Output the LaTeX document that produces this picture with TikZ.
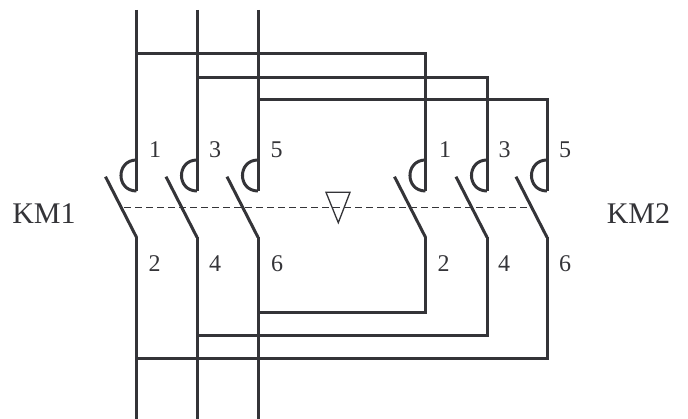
\documentclass[tikz,border=0pt]{standalone}
\usepackage{fontspec}
\setmainfont{Liberation Serif}
\definecolor{wire}{RGB}{52,52,56}
\tikzset{
  wirepath/.style={draw=wire, line width=3pt, line join=miter, line cap=butt},
  linkage/.style={draw=wire, line width=1.2pt, dash pattern=on 7pt off 4pt},
  tri/.style={draw=wire, line width=1.3pt, line join=miter},
  numlbl/.style={inner sep=0pt, text=wire, font=\fontsize{24}{24}\selectfont},
  kmlbl/.style={inner sep=0pt, text=wire, font=\fontsize{30}{30}\selectfont}
}
\begin{document}
\begin{tikzpicture}[x=1pt,y=-1pt]
\useasboundingbox (0,0) rectangle (688,419);
% column coordinates
\foreach \n/\c in {a/136.5,b/197,c/258,d/425.5,e/487,f/547}{
  \coordinate (\n up) at (\c,191);
  \coordinate (\n lo) at (\c,237.3);
  \coordinate (\n arcT) at (\c,160);
  \coordinate (\n blade) at (\c-31,176.7);
}
% supply lines top
\coordinate (aT) at (136.5,10);
\coordinate (bT) at (197,10);
\coordinate (cT) at (258,10);
\coordinate (aB) at (136.5,419);
\coordinate (bB) at (197,419);
\coordinate (cB) at (258,419);
% KM1 poles
\draw[wirepath] (aT) -- (aup);
\draw[wirepath] (bT) -- (bup);
\draw[wirepath] (cT) -- (cup);
\draw[wirepath] (alo) -- (aB);
\draw[wirepath] (blo) -- (bB);
\draw[wirepath] (clo) -- (cB);
% cross wiring top
\draw[wirepath] (136.5,54) -| (dup);
\draw[wirepath] (197,78) -| (eup);
\draw[wirepath] (258,100) -| (fup);
% cross wiring bottom
\draw[wirepath] (dlo) |- (258,313);
\draw[wirepath] (elo) |- (197,336);
\draw[wirepath] (flo) |- (136.5,359);
% contacts
\foreach \n in {a,b,c,d,e,f}{
  \draw[wirepath] (\n arcT) .. controls ([xshift=-20.7pt]\n arcT) and ([xshift=-20.7pt]\n up) .. (\n up);
  \draw[wirepath] (\n blade) -- (\n lo);
}
% mechanical linkage
\coordinate (dashL) at (124,207.3);
\coordinate (dashR) at (529,207.3);
\draw[linkage] (dashL) -- (dashR);
\coordinate (t1) at (326,192.3);
\coordinate (t2) at (350,192.3);
\coordinate (t3) at (338.3,222.7);
\draw[tri] (t1) -- (t2) -- (t3) -- cycle;
% labels
\node[numlbl] (l1) at (155,150) {1};
\node[numlbl] (l3) at (215,150) {3};
\node[numlbl] (l5) at (276.5,150) {5};
\node[numlbl] (l2) at (154.5,263.5) {2};
\node[numlbl] (l4) at (215,263.5) {4};
\node[numlbl] (l6) at (277,263.5) {6};
\node[numlbl] (r1) at (445,150) {1};
\node[numlbl] (r3) at (504.5,150) {3};
\node[numlbl] (r5) at (565,150) {5};
\node[numlbl] (r2) at (443.5,263.5) {2};
\node[numlbl] (r4) at (504,263.5) {4};
\node[numlbl] (r6) at (565,263.5) {6};
\node[kmlbl] (km1) at (44,213.5) {KM1};
\node[kmlbl] (km2) at (638.5,213.5) {KM2};
\end{tikzpicture}
\end{document}
